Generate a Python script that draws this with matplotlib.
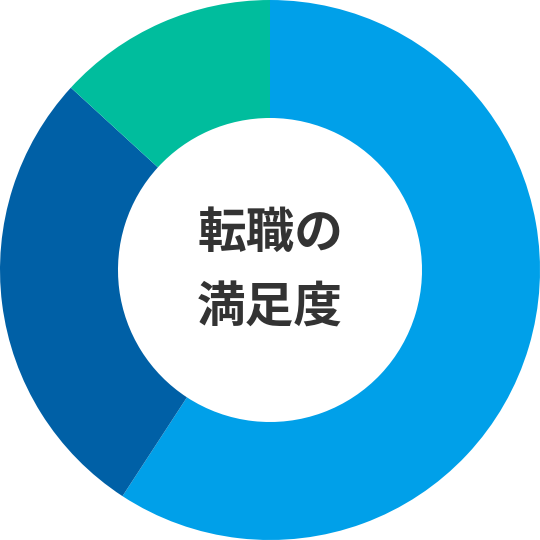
import matplotlib.pyplot as plt

plt.rcParams['font.family'] = ['Noto Sans CJK JP', 'DejaVu Sans']

# 転職の満足度 (share of each answer, clockwise from the top)
labels = ['満足', 'どちらともいえない', '不満']
values = [59.2, 27.6, 13.2]
colors = ['#00a0e9', '#0060a6', '#00bd9d']
center_lines = ['転職の', '満足度']

fig = plt.figure(figsize=(5.4, 5.4), dpi=100)
ax = fig.add_axes([0, 0, 1, 1])

ax.pie(values, colors=colors, startangle=90, counterclock=False,
       radius=1.0, wedgeprops=dict(width=0.437, linewidth=0))

ax.text(0, 0.135, center_lines[0], ha='center', va='center',
        fontsize=35, fontweight='bold', color='#333333')
ax.text(0, -0.14, center_lines[1], ha='center', va='center',
        fontsize=35, fontweight='bold', color='#333333')

ax.set_xlim(-1, 1)
ax.set_ylim(-1, 1)
ax.set_aspect('equal')
ax.axis('off')

fig.savefig('out.png', dpi=100, facecolor='white')
